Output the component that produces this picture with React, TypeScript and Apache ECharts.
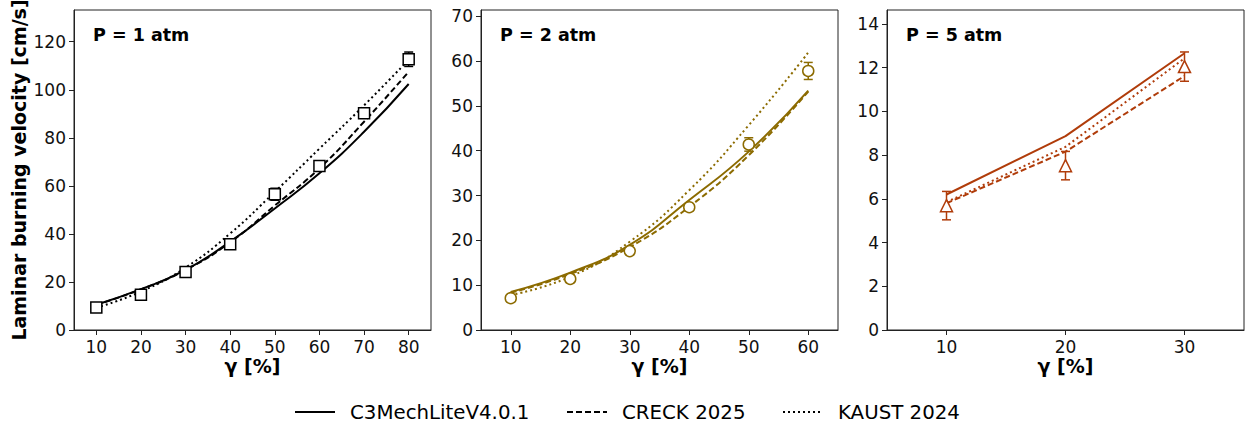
import React, { useEffect, useRef } from "react";
import * as echarts from "echarts";

// Equivalence ratio sweep (γ, %) for each pressure
const gamma1 = [10, 20, 30, 40, 50, 60, 70, 80];
const gamma2 = [10, 20, 30, 40, 50, 60];
const gamma3 = [10, 20, 30];

// P = 1 atm
const c3mech1 = [10.5, 17.0, 25.0, 36.8, 50.6, 65.2, 82.5, 102.4];
const creck1 = [10.5, 16.9, 25.0, 36.5, 51.8, 67.3, 86.7, 107.5];
const kaust1 = [9.3, 16.0, 26.0, 40.2, 57.5, 75.5, 93.5, 112.5];
const exp1 = [9.4, 14.7, 24.1, 35.7, 56.5, 68.3, 90.2, 112.7];
const err1 = [0.8, 1.0, 1.2, 1.5, 2.5, 1.5, 2.0, 3.0];

// P = 2 atm
const c3mech2 = [8.5, 12.8, 19.0, 29.0, 39.8, 53.4];
const creck2 = [8.3, 12.5, 18.5, 27.5, 39.0, 53.2];
const kaust2 = [7.8, 11.9, 19.7, 31.2, 45.7, 61.9];
const exp2 = [7.1, 11.4, 17.6, 27.4, 41.4, 57.8];
const err2 = [0.4, 0.4, 0.5, 0.6, 1.5, 1.9];

// P = 5 atm
const c3mech3 = [6.2, 8.87, 12.66];
const creck3 = [5.8, 8.16, 11.62];
const kaust3 = [5.85, 8.38, 12.43];
const exp3 = [5.69, 7.52, 12.05];
const err3 = [0.65, 0.65, 0.67];

// Axis ticks
const xTicks1 = [10, 20, 30, 40, 50, 60, 70, 80];
const xTicks2 = [10, 20, 30, 40, 50, 60];
const xTicks3 = [10, 20, 30];
const yTicks1 = [0, 20, 40, 60, 80, 100, 120];
const yTicks2 = [0, 10, 20, 30, 40, 50, 60, 70];
const yTicks3 = [0, 2, 4, 6, 8, 10, 12, 14];

const mechNames = ["C3MechLiteV4.0.1", "CRECK 2025", "KAUST 2024"];
const pressureLabels = ["P = 1 atm", "P = 2 atm", "P = 5 atm"];
const xLabel = "γ [%]";
const yLabel = "Laminar burning velocity [cm/s]";

const FONT = "DejaVu Sans";
const DASH = [6, 3];
const DOT = [2, 3];

const panels = [
  {
    gamma: gamma1, c3: c3mech1, cr: creck1, ka: kaust1, exp: exp1, err: err1,
    xTicks: xTicks1, yTicks: yTicks1, xMin: 5, xMax: 85, yMax: 133.2,
    color: "#000000", symbol: "rect", symbolSize: 11, smooth: true, left: 74,
  },
  {
    gamma: gamma2, c3: c3mech2, cr: creck2, ka: kaust2, exp: exp2, err: err2,
    xTicks: xTicks2, yTicks: yTicks2, xMin: 5, xMax: 65, yMax: 71.4,
    color: "#8c6b00", symbol: "circle", symbolSize: 11, smooth: true, left: 481,
  },
  {
    gamma: gamma3, c3: c3mech3, cr: creck3, ka: kaust3, exp: exp3, err: err3,
    xTicks: xTicks3, yTicks: yTicks3, xMin: 5, xMax: 35, yMax: 14.64,
    color: "#b03c0a", symbol: "triangle", symbolSize: 12, smooth: false, left: 887,
  },
];

const PANEL_W = 357;
const TOP = 10;
const PANEL_H = 320;

function zip(xs: number[], ys: number[]) {
  return xs.map((x, i) => [x, ys[i]]);
}

function buildOption() {
  const grid: any[] = [];
  const xAxis: any[] = [];
  const yAxis: any[] = [];
  const series: any[] = [];
  const graphic: any[] = [];

  panels.forEach((p, i) => {
    grid.push({
      left: p.left, top: TOP, width: PANEL_W, height: PANEL_H,
      show: true, borderColor: "#222", borderWidth: 1, containLabel: false,
    });
    xAxis.push({
      type: "value", gridIndex: i, min: p.xMin, max: p.xMax,
      splitLine: { show: false },
      axisLine: { show: true, lineStyle: { color: "#222", width: 1 } },
      axisTick: { show: true, length: 5, lineStyle: { color: "#222" }, customValues: p.xTicks },
      axisLabel: {
        color: "#111", fontSize: 17, fontFamily: FONT, margin: 8,
        customValues: p.xTicks,
      },
    });
    yAxis.push({
      type: "value", gridIndex: i, min: 0, max: p.yMax,
      splitLine: { show: false },
      axisLine: { show: true, lineStyle: { color: "#222", width: 1 } },
      axisTick: { show: true, length: 5, lineStyle: { color: "#222" }, customValues: p.yTicks },
      axisLabel: {
        color: "#111", fontSize: 17, fontFamily: FONT, margin: 8,
        customValues: p.yTicks,
      },
    });

    const lineBase = {
      type: "line", xAxisIndex: i, yAxisIndex: i, showSymbol: false,
      smooth: p.smooth ? 0.5 : false, z: 2,
    };
    series.push({
      ...lineBase, name: mechNames[0], data: zip(p.gamma, p.c3),
      lineStyle: { color: p.color, width: 2, type: "solid" },
    });
    series.push({
      ...lineBase, name: mechNames[1], data: zip(p.gamma, p.cr),
      lineStyle: { color: p.color, width: 2, type: DASH },
    });
    series.push({
      ...lineBase, name: mechNames[2], data: zip(p.gamma, p.ka),
      lineStyle: { color: p.color, width: 2, type: DOT },
    });

    const color = p.color;
    series.push({
      type: "custom", xAxisIndex: i, yAxisIndex: i, z: 3,
      data: p.gamma.map((g, k) => [g, p.exp[k] - p.err[k], p.exp[k] + p.err[k]]),
      encode: { x: 0, y: [1, 2] },
      renderItem: (params: any, api: any) => {
        const x = api.value(0);
        const lo = api.coord([x, api.value(1)]);
        const hi = api.coord([x, api.value(2)]);
        const w = 4.5;
        const style = { stroke: color, lineWidth: 1.5 };
        return {
          type: "group",
          children: [
            { type: "line", shape: { x1: lo[0], y1: lo[1], x2: hi[0], y2: hi[1] }, style },
            { type: "line", shape: { x1: lo[0] - w, y1: lo[1], x2: lo[0] + w, y2: lo[1] }, style },
            { type: "line", shape: { x1: hi[0] - w, y1: hi[1], x2: hi[0] + w, y2: hi[1] }, style },
          ],
        };
      },
    });
    series.push({
      type: "scatter", xAxisIndex: i, yAxisIndex: i, z: 4,
      symbol: p.symbol, symbolSize: p.symbolSize,
      data: zip(p.gamma, p.exp),
      itemStyle: { color: "#ffffff", borderColor: p.color, borderWidth: 1.5, opacity: 1 },
    });

    // pressure annotation and x-axis name
    graphic.push({
      type: "text", left: p.left + 19, top: 26,
      style: { text: pressureLabels[i], fontFamily: FONT, fontWeight: "bold", fontSize: 17.5, fill: "#000" },
    });
    graphic.push({
      type: "text", x: p.left + PANEL_W / 2, y: 366,
      style: {
        text: xLabel, fontFamily: FONT, fontWeight: "bold", fontSize: 19, fill: "#000",
        textAlign: "center", textVerticalAlign: "middle",
      },
    });
  });

  // shared y-axis name
  graphic.push({
    type: "text", x: 19, y: 170, rotation: Math.PI / 2,
    style: {
      text: yLabel, fontFamily: FONT, fontWeight: "bold", fontSize: 19, fill: "#000",
      textAlign: "center", textVerticalAlign: "middle",
    },
  });

  // legend row
  const legendY = 412;
  const legendItems = [
    { x: 295, dash: null as any, label: mechNames[0] },
    { x: 567, dash: DASH, label: mechNames[1] },
    { x: 783, dash: DOT, label: mechNames[2] },
  ];
  legendItems.forEach((it) => {
    graphic.push({
      type: "line",
      shape: { x1: it.x, y1: legendY, x2: it.x + 40, y2: legendY },
      style: { stroke: "#000", lineWidth: 2, lineDash: it.dash || undefined },
    });
    graphic.push({
      type: "text", x: it.x + 55, y: legendY,
      style: {
        text: it.label, fontFamily: FONT, fontSize: 19.8, fill: "#000",
        textAlign: "left", textVerticalAlign: "middle",
      },
    });
  });

  return {
    animation: false,
    backgroundColor: "#ffffff",
    textStyle: { fontFamily: FONT },
    grid, xAxis, yAxis, series, graphic,
  };
}

export default function App() {
  const ref = useRef<HTMLDivElement>(null);
  useEffect(() => {
    if (!ref.current) return;
    const chart = echarts.init(ref.current, undefined, { renderer: "svg" });
    chart.setOption(buildOption() as any);
    return () => chart.dispose();
  }, []);
  return (
    <div
      ref={ref}
      style={{ position: "fixed", left: 0, top: 0, width: 1245, height: 429, background: "#fff" }}
    />
  );
}
